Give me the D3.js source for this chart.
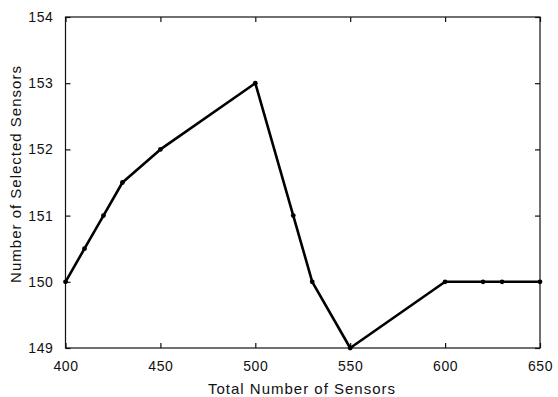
<!DOCTYPE html>
<html>
<head>
<meta charset="utf-8">
<script src="https://cdn.jsdelivr.net/npm/d3@7"></script>
<style>
  body { margin: 0; background: #fff; }
  text { font-family: "Liberation Sans", Arial, sans-serif; fill: #111; }
</style>
</head>
<body>
<svg id="chart" width="558" height="397"></svg>
<script>
// values
var sensorsTotal = [400, 410, 420, 430, 450, 500, 520, 530, 550, 600, 620, 630, 650];
var sensorsSelected = [150, 150.5, 151, 151.5, 152, 153, 151, 150, 149, 150, 150, 150, 150];
var xTicks = [400, 450, 500, 550, 600, 650];
var yTicks = [149, 150, 151, 152, 153, 154];

var svg = d3.select("#chart");
var plotL = 65.5, plotR = 540, plotT = 17, plotB = 348;

var x = d3.scaleLinear().domain([400, 650]).range([plotL, plotR]);
var y = d3.scaleLinear().domain([149, 154]).range([plotB, plotT]);

var g = svg.append("g");

// frame
g.append("rect")
    .attr("x", plotL).attr("y", plotT)
    .attr("width", plotR - plotL).attr("height", plotB - plotT)
    .attr("fill", "none").attr("stroke", "#111").attr("stroke-width", 1.2);

// inward ticks, mirrored on all sides
function styleAxis(a) {
    a.select(".domain").remove();
    a.selectAll(".tick line").attr("stroke", "#111").attr("stroke-width", 1.2);
    a.selectAll(".tick text")
        .style("font-size", "14px")
        .style("letter-spacing", "0.6px")
        .attr("fill", "#111");
}

var fmt = d3.format("d");

g.append("g").attr("transform", `translate(0,${plotB})`)
    .call(d3.axisBottom(x).tickValues(xTicks).tickFormat(fmt).tickSizeInner(-5).tickSizeOuter(0).tickPadding(13))
    .call(styleAxis);
g.append("g").attr("transform", `translate(0,${plotT})`)
    .call(d3.axisTop(x).tickValues(xTicks).tickSizeInner(-5).tickSizeOuter(0).tickFormat(""))
    .call(styleAxis);
g.append("g").attr("transform", `translate(${plotL},0)`)
    .call(d3.axisLeft(y).tickValues(yTicks).tickFormat(fmt).tickSizeInner(-5).tickSizeOuter(0).tickPadding(12))
    .call(styleAxis);
g.append("g").attr("transform", `translate(${plotR},0)`)
    .call(d3.axisRight(y).tickValues(yTicks).tickSizeInner(-5).tickSizeOuter(0).tickFormat(""))
    .call(styleAxis);

var pts = d3.zip(sensorsTotal, sensorsSelected);

g.append("path")
    .datum(pts)
    .attr("fill", "none")
    .attr("stroke", "#000")
    .attr("stroke-width", 2.6)
    .attr("stroke-linejoin", "round")
    .attr("d", d3.line().x(d => x(d[0])).y(d => y(d[1])));

g.selectAll("circle.pt")
    .data(pts)
  .enter().append("circle")
    .attr("class", "pt")
    .attr("cx", d => x(d[0]))
    .attr("cy", d => y(d[1]))
    .attr("r", 2.4)
    .attr("fill", "#000");

// axis titles
svg.append("text")
    .attr("x", 302).attr("y", 394)
    .attr("text-anchor", "middle")
    .style("font-size", "15px")
    .style("letter-spacing", "1px")
    .text("Total Number of Sensors");

svg.append("text")
    .attr("transform", "translate(21,174) rotate(-90)")
    .attr("text-anchor", "middle")
    .style("font-size", "15px")
    .style("letter-spacing", "1px")
    .text("Number of Selected Sensors");
</script>
</body>
</html>
